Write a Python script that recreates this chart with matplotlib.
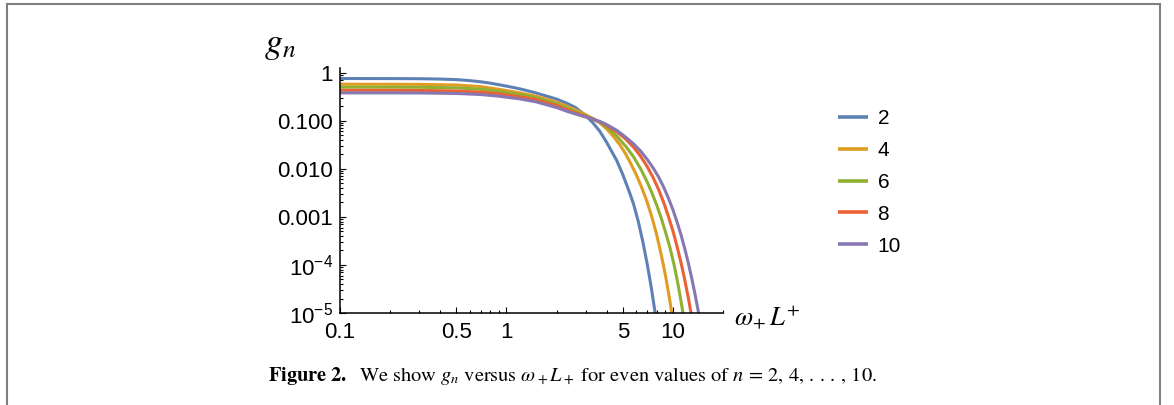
import numpy as np
import matplotlib
matplotlib.use("Agg")
import matplotlib.pyplot as plt
from matplotlib.lines import Line2D
from matplotlib.ticker import FixedLocator, FixedFormatter, LogLocator, NullFormatter

plt.rcParams['font.family'] = ['Liberation Sans', 'DejaVu Sans']
plt.rcParams['mathtext.fontset'] = 'custom'
plt.rcParams['mathtext.rm'] = 'Liberation Sans'
plt.rcParams['mathtext.it'] = 'Liberation Sans:italic'

# values (g_n vs omega_+ L^+)
x2 = [0.1, 0.2, 0.3, 0.4, 0.5, 0.6, 0.7, 0.8, 0.9, 1.0, 1.2, 1.5, 2.0, 2.3, 2.6,
      3.0, 3.3, 3.64, 4.0, 4.6, 5.0, 5.5, 5.8, 6.2, 6.6, 7.0, 7.4, 7.8, 8.1]
g2 = [0.755, 0.753, 0.748, 0.736, 0.716, 0.684, 0.646, 0.605, 0.562, 0.525, 0.462,
      0.380, 0.282, 0.232, 0.188, 0.127, 0.0912, 0.0603, 0.0355, 0.0148, 0.00759,
      0.00316, 0.00186, 7.94e-4, 3.02e-4, 1.07e-4, 3.55e-5, 1.07e-5, 4.47e-6]

x4 = [0.1, 0.2, 0.3, 0.5, 0.7, 0.9, 1.2, 1.5, 2.0, 2.3, 2.6, 3.0, 3.3, 3.64, 4.0,
      4.4, 4.8, 5.2, 5.6, 6.0, 6.5, 7.0, 7.5, 8.0, 8.5, 9.0, 9.5, 9.85, 10.1]
g4 = [0.575, 0.574, 0.571, 0.553, 0.513, 0.452, 0.380, 0.324, 0.243, 0.200, 0.168,
      0.133, 0.112, 0.0902, 0.0676, 0.0468, 0.0316, 0.0204, 0.0126, 0.00776,
      0.00407, 0.00204, 9.55e-4, 4.17e-4, 1.66e-4, 6.31e-5, 2.19e-5, 1.0e-5, 5.25e-6]

x6 = [0.1, 0.2, 0.3, 0.5, 0.7, 0.9, 1.2, 1.5, 2.0, 2.3, 2.6, 3.0, 3.3, 3.64, 4.0,
      4.6, 5.2, 5.8, 6.4, 7.0, 7.5, 8.0, 8.5, 9.0, 9.6, 10.2, 10.8, 11.4, 11.8]
g6 = [0.500, 0.499, 0.497, 0.483, 0.452, 0.407, 0.351, 0.302, 0.224, 0.184, 0.155,
      0.126, 0.110, 0.0923, 0.0741, 0.0479, 0.0295, 0.0178, 0.0100, 0.00537,
      0.00309, 0.00174, 9.55e-4, 5.01e-4, 2.29e-4, 9.55e-5, 3.55e-5, 1.20e-5, 5.75e-6]

x8 = [0.1, 0.2, 0.3, 0.5, 0.7, 0.9, 1.2, 1.5, 2.0, 2.3, 2.6, 3.0, 3.3, 3.64, 4.0,
      4.6, 5.2, 5.8, 6.4, 7.0, 7.6, 8.2, 8.8, 9.4, 10.0, 10.6, 11.2, 11.8, 12.4,
      12.9, 13.2]
g8 = [0.430, 0.429, 0.427, 0.416, 0.394, 0.363, 0.316, 0.275, 0.207, 0.170, 0.145,
      0.122, 0.108, 0.0944, 0.0794, 0.0589, 0.0417, 0.0282, 0.0182, 0.0112,
      0.00661, 0.00372, 0.00200, 0.00102, 5.13e-4, 2.40e-4, 1.10e-4, 4.79e-5,
      2.0e-5, 9.33e-6, 5.75e-6]

x10 = [0.1, 0.2, 0.3, 0.5, 0.7, 0.9, 1.2, 1.5, 2.0, 2.3, 2.6, 3.0, 3.3, 3.64, 4.0,
       4.6, 5.2, 5.8, 6.4, 7.0, 7.6, 8.2, 8.8, 9.4, 10.0, 10.6, 11.2, 11.8, 12.4,
       13.0, 13.6, 14.2, 14.6]
g10 = [0.380, 0.379, 0.378, 0.369, 0.351, 0.324, 0.285, 0.248, 0.188, 0.158, 0.138,
       0.119, 0.108, 0.0966, 0.0832, 0.0631, 0.0457, 0.0331, 0.0234, 0.0158,
       0.0105, 0.00676, 0.00417, 0.00245, 0.00141, 7.76e-4, 4.17e-4, 2.14e-4,
       1.07e-4, 5.13e-5, 2.40e-5, 1.10e-5, 6.31e-6]

labels = ['2', '4', '6', '8', '10']
colors = ['#5E81B5', '#E19C24', '#8FB032', '#EB6235', '#8778B3']

xticks = [0.1, 0.5, 1, 5, 10]
xticklabels = ['0.1', '0.5', '1', '5', '10']
yticks = [1e-5, 1e-4, 1e-3, 1e-2, 1e-1, 1]
yticklabels = ['$10^{-5}$', '$10^{-4}$', '0.001', '0.010', '0.100', '1']

W, H = 1174, 405
fig = plt.figure(figsize=(W / 100, H / 100), dpi=100)
ax = fig.add_axes([340 / W, 1 - 313 / H, (723 - 340) / W, (313 - 68) / H])

series = [(x2, g2), (x4, g4), (x6, g6), (x8, g8), (x10, g10)]
for (xs, gs), lab, c in zip(series, labels, colors):
    ax.plot(xs, gs, color=c, lw=2.2, label=lab, solid_capstyle='butt')

ax.set_xscale('log')
ax.set_yscale('log')
ax.set_xlim(0.1, 20)
ax.set_ylim(1e-5, 1.25)

ax.xaxis.set_major_locator(FixedLocator(xticks))
ax.xaxis.set_major_formatter(FixedFormatter(xticklabels))
ax.xaxis.set_minor_locator(FixedLocator([0.2, 0.3, 0.4, 0.6, 0.7, 0.8, 0.9,
                                         2, 3, 4, 6, 7, 8, 9, 20]))
ax.xaxis.set_minor_formatter(NullFormatter())
ax.yaxis.set_major_locator(FixedLocator(yticks))
ax.yaxis.set_major_formatter(FixedFormatter(yticklabels))
ax.yaxis.set_minor_locator(LogLocator(base=10, subs=np.arange(2, 10), numticks=20))
ax.yaxis.set_minor_formatter(NullFormatter())

for s in ['top', 'right']:
    ax.spines[s].set_visible(False)
for s in ['left', 'bottom']:
    ax.spines[s].set_linewidth(1.1)
ax.tick_params(which='both', direction='in', labelsize=16, width=0.8)
ax.tick_params(which='major', length=4)
ax.tick_params(which='minor', length=2.2)
ax.tick_params(axis='x', pad=6.5)
ax.tick_params(axis='y', pad=5)

fig.text(264 / W, 1 - 44 / H, r'$g_n$', math_fontfamily='stix', fontsize=26,
         va='center', ha='left')
fig.text(734 / W, 1 - 318 / H, r'$\omega_{\!+}L^{+}$', math_fontfamily='stix',
         fontsize=19, va='center', ha='left')

leg = fig.legend(loc='upper left', bbox_to_anchor=(838 / W, 1 - 109 / H), frameon=False,
                 fontsize=15, handlelength=1.45, handletextpad=0.45, labelspacing=0.62,
                 borderpad=0, borderaxespad=0)
for h in leg.legend_handles:
    h.set_linewidth(2.6)

fig.text(268 / W, 1 - 376 / H,
         r'$\mathbf{Figure\ 2.}$  We show $g_n$ versus $\omega_+L_+$ for even values of '
         r'$n\,=\,2,\,4,\,.\,.\,.\,,\,10$.',
         family='STIXGeneral', math_fontfamily='stix', fontsize=14.7, va='center', ha='left')

# page frame
frame = dict(color='#808080', lw=1.5, transform=fig.transFigure)
fig.add_artist(Line2D([6.5 / W, 1159.5 / W], [1 - 3.5 / H, 1 - 3.5 / H], **frame))
fig.add_artist(Line2D([6.5 / W, 6.5 / W], [0, 1 - 3.5 / H], **frame))
fig.add_artist(Line2D([1159.5 / W, 1159.5 / W], [0, 1 - 3.5 / H], **frame))

fig.savefig('out.png', dpi=100)
